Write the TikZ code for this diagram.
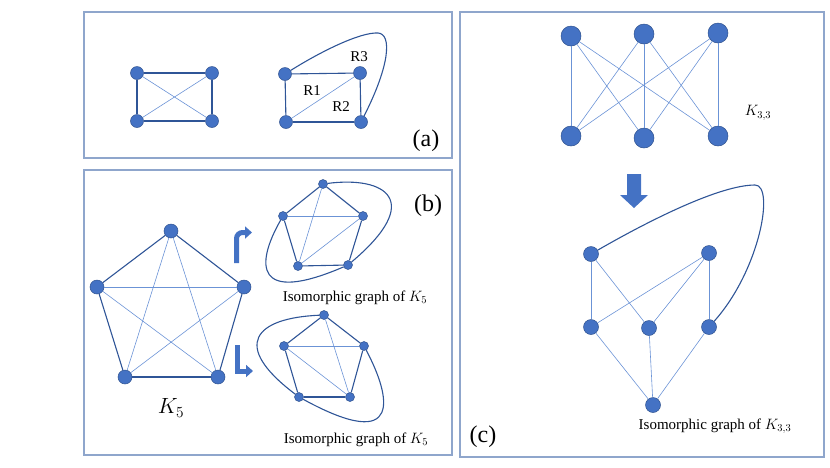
\RequirePackage{fix-cm}
\documentclass[tikz,border=0pt]{standalone}
\usepackage{fontspec}
\setmainfont{Liberation Serif}
\usetikzlibrary{arrows.meta}
\definecolor{nodeblue}{HTML}{4472C4}
\definecolor{nodeline}{HTML}{2F528F}
\definecolor{darkedge}{HTML}{2F5597}
\definecolor{lightedge}{HTML}{6B93D6}
\definecolor{framecol}{HTML}{8FA6CC}

\begin{document}
\begin{tikzpicture}[x=1pt,y=-1pt,
    vertex/.style={circle,fill=nodeblue,draw=nodeline,line width=0.5pt,inner sep=0pt},
    tiny node/.style={vertex,minimum size=9pt},
    small node/.style={vertex,minimum size=13pt},
    main node/.style={vertex,minimum size=14pt},
    mid node/.style={vertex,minimum size=15pt},
    big node/.style={vertex,minimum width=19pt,minimum height=20pt},
    outer edge/.style={draw=darkedge,line width=1.1pt},
    inner edge/.style={draw=lightedge,line width=0.6pt},
    frame/.style={draw=framecol,line width=1.3pt},
    lbl/.style={font=\fontsize{15}{18}\selectfont,inner sep=0pt},
    tag/.style={font=\fontsize{24}{28}\selectfont,inner sep=0pt},
    bent/.style={draw=nodeblue,line width=5pt,-{Triangle[width=12pt,length=7pt]}}]
    \useasboundingbox (0,0) rectangle (830,467);

    \draw[frame] (84,12) rectangle (452,158);
    \draw[frame] (84,170) rectangle (452,455);
    \draw[frame] (460,12) rectangle (824,457);

    \node[small node] (a1) at (137,73) {};
    \node[small node] (a2) at (212,73) {};
    \node[small node] (a3) at (137,121) {};
    \node[small node] (a4) at (212,121) {};
    \node[small node] (a5) at (285,74) {};
    \node[small node] (a6) at (360,73) {};
    \node[small node] (a7) at (286,122) {};
    \node[small node] (a8) at (361,122) {};
    \node[lbl] (r3) at (359,57) {R3};
    \node[lbl] (r1) at (312,91) {R1};
    \node[lbl] (r2) at (341,107) {R2};
    \node[tag] (tagA) at (426,141) {(a)};

    \path[outer edge] (a1) edge (a2) (a2) edge (a4) (a4) edge (a3) (a3) edge (a1)
        (a5) edge (a6) (a6) edge (a8) (a8) edge (a7) (a7) edge (a5);
    \path[inner edge] (a1) edge (a4) (a2) edge (a3) (a7) edge (a6);
    \draw[outer edge] (a5) .. controls (320,52) and (360,32) .. (378,33)
        .. controls (392,34) and (390,65) .. (a8);

    \node[main node] (k1) at (171,231) {};
    \node[main node] (k2) at (97,287) {};
    \node[main node] (k3) at (244,287) {};
    \node[main node] (k4) at (125,377) {};
    \node[main node] (k5) at (218,377) {};
    \node[font=\fontsize{22}{26}\selectfont] (k5lbl) at (171,408) {$K_5$};

    \path[outer edge] (k1) edge (k2) (k1) edge (k3) (k2) edge (k4) (k3) edge (k5) (k4) edge (k5);
    \path[inner edge] (k1) edge (k4) (k1) edge (k5) (k2) edge (k3) (k2) edge (k5) (k3) edge (k4);

    \draw[bent,rounded corners=6pt] (236.5,263) -- (236.5,232.5) -- (252,232.5);
    \draw[bent] (237,345) -- (237,371) -- (253,371);

    \node[tiny node] (p1) at (323,184) {};
    \node[tiny node] (p2) at (283,216) {};
    \node[tiny node] (p3) at (363,216) {};
    \node[tiny node] (p4) at (298,266) {};
    \node[tiny node] (p5) at (348,265) {};
    \node[lbl] (isoP) at (355,298) {Isomorphic graph of $K_5$};

    \path[outer edge] (p1) edge (p2) (p1) edge (p3) (p2) edge (p4) (p3) edge (p5) (p4) edge (p5);
    \path[inner edge] (p1) edge (p4) (p2) edge (p3) (p3) edge (p4);
    \draw[outer edge] (p1) .. controls (385,176) and (425,200) .. (p5);
    \draw[outer edge] (p2) .. controls (255,265) and (255,305) .. (p5);

    \node[tiny node] (q1) at (324,315) {};
    \node[tiny node] (q2) at (284,346) {};
    \node[tiny node] (q3) at (364,346) {};
    \node[tiny node] (q4) at (299,397) {};
    \node[tiny node] (q5) at (350,397) {};
    \node[lbl] (isoQ) at (356,440) {Isomorphic graph of $K_5$};
    \node[tag] (tagB) at (428,206) {(b)};

    \path[outer edge] (q1) edge (q2) (q1) edge (q3) (q2) edge (q4) (q3) edge (q5) (q4) edge (q5);
    \path[inner edge] (q1) edge (q5) (q2) edge (q3) (q2) edge (q5);
    \draw[outer edge] (q1) .. controls (255,318) and (230,345) .. (q4);
    \draw[outer edge] (q3) .. controls (390,395) and (405,455) .. (q4);

    \node[big node] (u1) at (571,36) {};
    \node[big node] (u2) at (644,34) {};
    \node[big node] (u3) at (718,33) {};
    \node[big node] (v1) at (571,136) {};
    \node[big node] (v2) at (644,138) {};
    \node[big node] (v3) at (718,136) {};
    \node[lbl] (k33) at (758,113) {$K_{3,3}$};

    \path[inner edge] (u1) edge (v1) (u1) edge (v2) (u1) edge (v3)
        (u2) edge (v1) (u2) edge (v2) (u2) edge (v3)
        (u3) edge (v1) (u3) edge (v2) (u3) edge (v3);

    \fill[nodeblue] (627,174) -- (641,174) -- (641,195) -- (648,195) -- (634,208)
        -- (620,195) -- (627,195) -- cycle;

    \node[mid node] (c1) at (591,254) {};
    \node[mid node] (c2) at (709,253) {};
    \node[mid node] (c3) at (591,327) {};
    \node[mid node] (c4) at (649,328) {};
    \node[mid node] (c5) at (709,327) {};
    \node[mid node] (c6) at (653,405) {};
    \node[lbl] (isoC) at (715,426) {Isomorphic graph of $K_{3,3}$};
    \node[tag] (tagC) at (483,437) {(c)};

    \path[inner edge] (c1) edge (c3) (c1) edge (c4) (c2) edge (c3) (c2) edge (c4) (c2) edge (c5)
        (c6) edge (c3) (c6) edge (c4) (c6) edge (c5);
    \draw[outer edge] (c1) .. controls (650,220) and (720,185) .. (755,185)
        .. controls (775,185) and (760,270) .. (c5);
\end{tikzpicture}
\end{document}
